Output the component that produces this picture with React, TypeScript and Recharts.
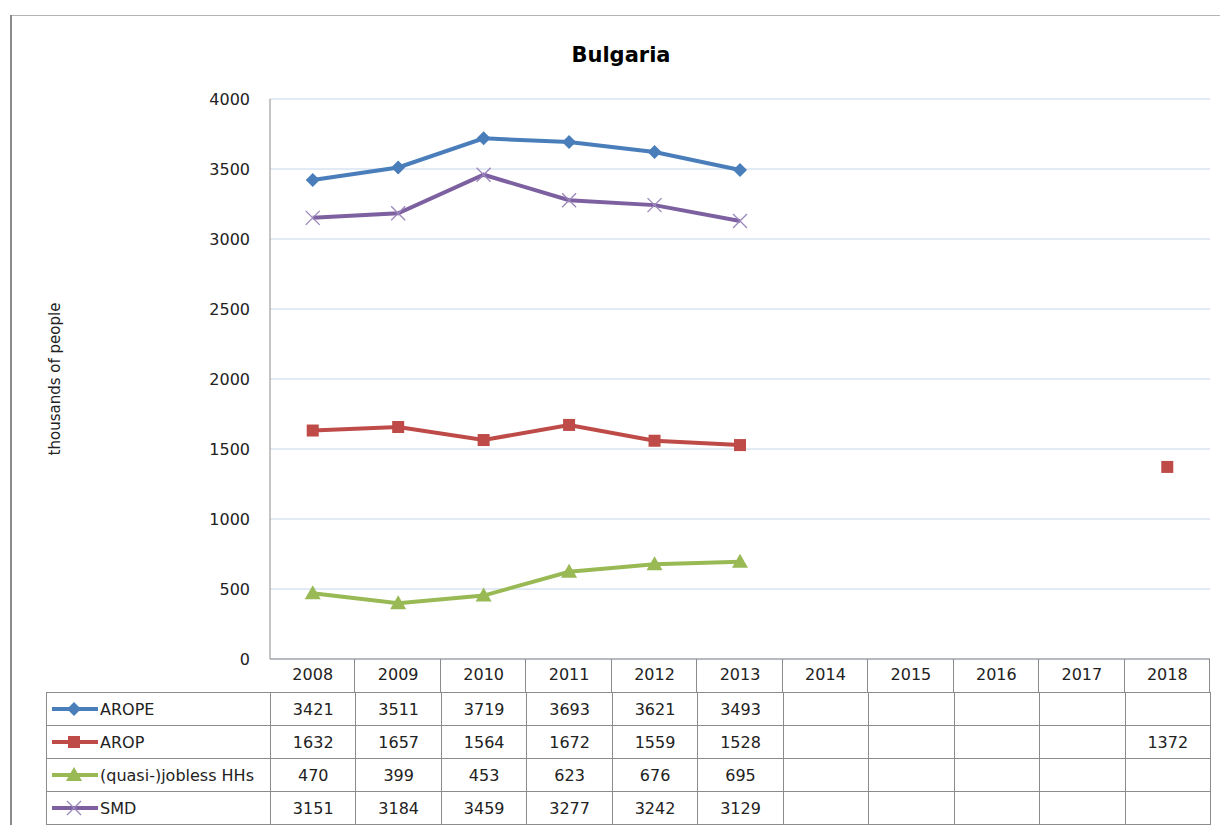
import { CartesianGrid, Line, LineChart, XAxis, YAxis } from 'recharts'

const years = ['2008', '2009', '2010', '2011', '2012', '2013', '2014', '2015', '2016', '2017', '2018']
const arope = [3421, 3511, 3719, 3693, 3621, 3493, null, null, null, null, null]
const arop = [1632, 1657, 1564, 1672, 1559, 1528, null, null, null, null, 1372]
const jobless = [470, 399, 453, 623, 676, 695, null, null, null, null, null]
const smd = [3151, 3184, 3459, 3277, 3242, 3129, null, null, null, null, null]
const yTicks = [0, 500, 1000, 1500, 2000, 2500, 3000, 3500, 4000]

type Marker = 'diamond' | 'square' | 'triangle' | 'cross'

const series: { key: string; name: string; values: (number | null)[]; color: string; marker: Marker }[] = [
  { key: 'arope', name: 'AROPE', values: arope, color: '#4a7ebb', marker: 'diamond' },
  { key: 'arop', name: 'AROP', values: arop, color: '#be4b48', marker: 'square' },
  { key: 'jobless', name: '(quasi-)jobless HHs', values: jobless, color: '#98b954', marker: 'triangle' },
  { key: 'smd', name: 'SMD', values: smd, color: '#7d60a0', marker: 'cross' },
]

const data = years.map((year, i) => {
  const row: Record<string, string | number | null> = { year }
  series.forEach((s) => {
    row[s.key] = s.values[i]
  })
  return row
})

const FONT = '"DejaVu Sans", sans-serif'
const plotLeft = 270
const plotRight = 1210
const plotTop = 99
const plotBottom = 659
const colW = (plotRight - plotLeft) / years.length
const rowH = 33
const legendLeft = 46
const border = '#8c8c8c'

const drawMarker = (m: Marker, cx: number, cy: number, color: string, key?: string | number) => {
  if (m === 'diamond')
    return <polygon key={key} points={`${cx},${cy - 7} ${cx + 7},${cy} ${cx},${cy + 7} ${cx - 7},${cy}`} fill={color} />
  if (m === 'square') return <rect key={key} x={cx - 6} y={cy - 6} width={12} height={12} fill={color} />
  if (m === 'triangle')
    return <polygon key={key} points={`${cx},${cy - 8} ${cx + 8},${cy + 6} ${cx - 8},${cy + 6}`} fill={color} />
  return (
    <g key={key} stroke="#9b86bb" strokeWidth={1.3}>
      <line x1={cx - 7} y1={cy - 7} x2={cx + 7} y2={cy + 7} />
      <line x1={cx - 7} y1={cy + 7} x2={cx + 7} y2={cy - 7} />
    </g>
  )
}

const makeDot = (m: Marker, color: string) => (props: any) => {
  const { cx, cy, value, index } = props
  if (value == null || cx == null || cy == null) return <g key={`e-${index}`} />
  return drawMarker(m, cx, cy, color, `d-${index}`)
}

const App = () => {
  return (
    <div style={{ position: 'absolute', left: 0, top: 0, width: 1220, height: 825, background: '#fff', fontFamily: FONT }}>
      <LineChart width={1220} height={825} data={data} margin={{ top: plotTop, right: 1220 - plotRight, left: 0, bottom: 0 }}>
        <CartesianGrid vertical={false} stroke="#c5d5ec" />
        <XAxis
          dataKey="year"
          height={825 - plotBottom}
          padding={{ left: colW / 2, right: colW / 2 }}
          axisLine={{ stroke: border }}
          tickLine={false}
          tickSize={0}
          tickMargin={10}
          interval={0}
          tick={{ fill: '#222', fontSize: 16, fontFamily: FONT }}
        />
        <YAxis
          width={plotLeft}
          domain={[0, 4000]}
          ticks={yTicks}
          axisLine={{ stroke: border }}
          tickLine={false}
          tickSize={0}
          tickMargin={20}
          tick={{ fill: '#222', fontSize: 16, fontFamily: FONT }}
        />
        {series.map((s) => (
          <Line
            key={s.key}
            dataKey={s.key}
            name={s.name}
            stroke={s.color}
            strokeWidth={4}
            type="linear"
            dot={makeDot(s.marker, s.color)}
            activeDot={false}
            connectNulls={false}
            isAnimationActive={false}
          />
        ))}
      </LineChart>

      <svg width={1220} height={825} style={{ position: 'absolute', left: 0, top: 0, pointerEvents: 'none' }}>
        <line x1={11} y1={15.5} x2={1220} y2={15.5} stroke="#b4b4b4" />
        <line x1={11} y1={15} x2={11} y2={825} stroke="#8a8a8a" strokeWidth={2} />
        <text x={621} y={62} textAnchor="middle" fontSize={21} fontWeight="bold" fill="#000" fontFamily={FONT}>
          Bulgaria
        </text>
        <text
          x={60}
          y={379}
          textAnchor="middle"
          fontSize={15}
          fill="#222"
          fontFamily={FONT}
          transform="rotate(-90 60 379)"
        >
          thousands of people
        </text>
      </svg>

      {/* data table under the plot */}
      {years.map((y, i) => (
        <div
          key={`h-${y}`}
          style={{
            position: 'absolute',
            left: plotLeft + i * colW,
            top: plotBottom,
            width: colW,
            height: rowH,
            borderRight: `1px solid ${border}`,
            boxSizing: 'border-box',
          }}
        />
      ))}
      {series.map((s, r) => (
        <div key={`r-${s.key}`}>
          <div
            style={{
              position: 'absolute',
              left: legendLeft,
              top: plotBottom + rowH * (r + 1),
              width: plotLeft - legendLeft + 1,
              height: rowH + 1,
              border: `1px solid ${border}`,
              boxSizing: 'border-box',
              display: 'flex',
              alignItems: 'center',
              fontSize: 16,
              color: '#222',
            }}
          >
            <svg width={50} height={20} style={{ flex: 'none', marginLeft: 3 }}>
              <line x1={2} y1={10} x2={48} y2={10} stroke={s.color} strokeWidth={4} />
              {drawMarker(s.marker, 24, 10, s.color)}
            </svg>
            <span style={{ whiteSpace: 'nowrap' }}>{s.name}</span>
          </div>
          {s.values.map((v, i) => (
            <div
              key={`c-${s.key}-${i}`}
              style={{
                position: 'absolute',
                left: plotLeft + i * colW,
                top: plotBottom + rowH * (r + 1),
                width: colW + 1,
                height: rowH + 1,
                border: `1px solid ${border}`,
                boxSizing: 'border-box',
                display: 'flex',
                alignItems: 'center',
                justifyContent: 'center',
                fontSize: 16,
                color: '#222',
              }}
            >
              {v ?? ''}
            </div>
          ))}
        </div>
      ))}
    </div>
  )
}

export default App
